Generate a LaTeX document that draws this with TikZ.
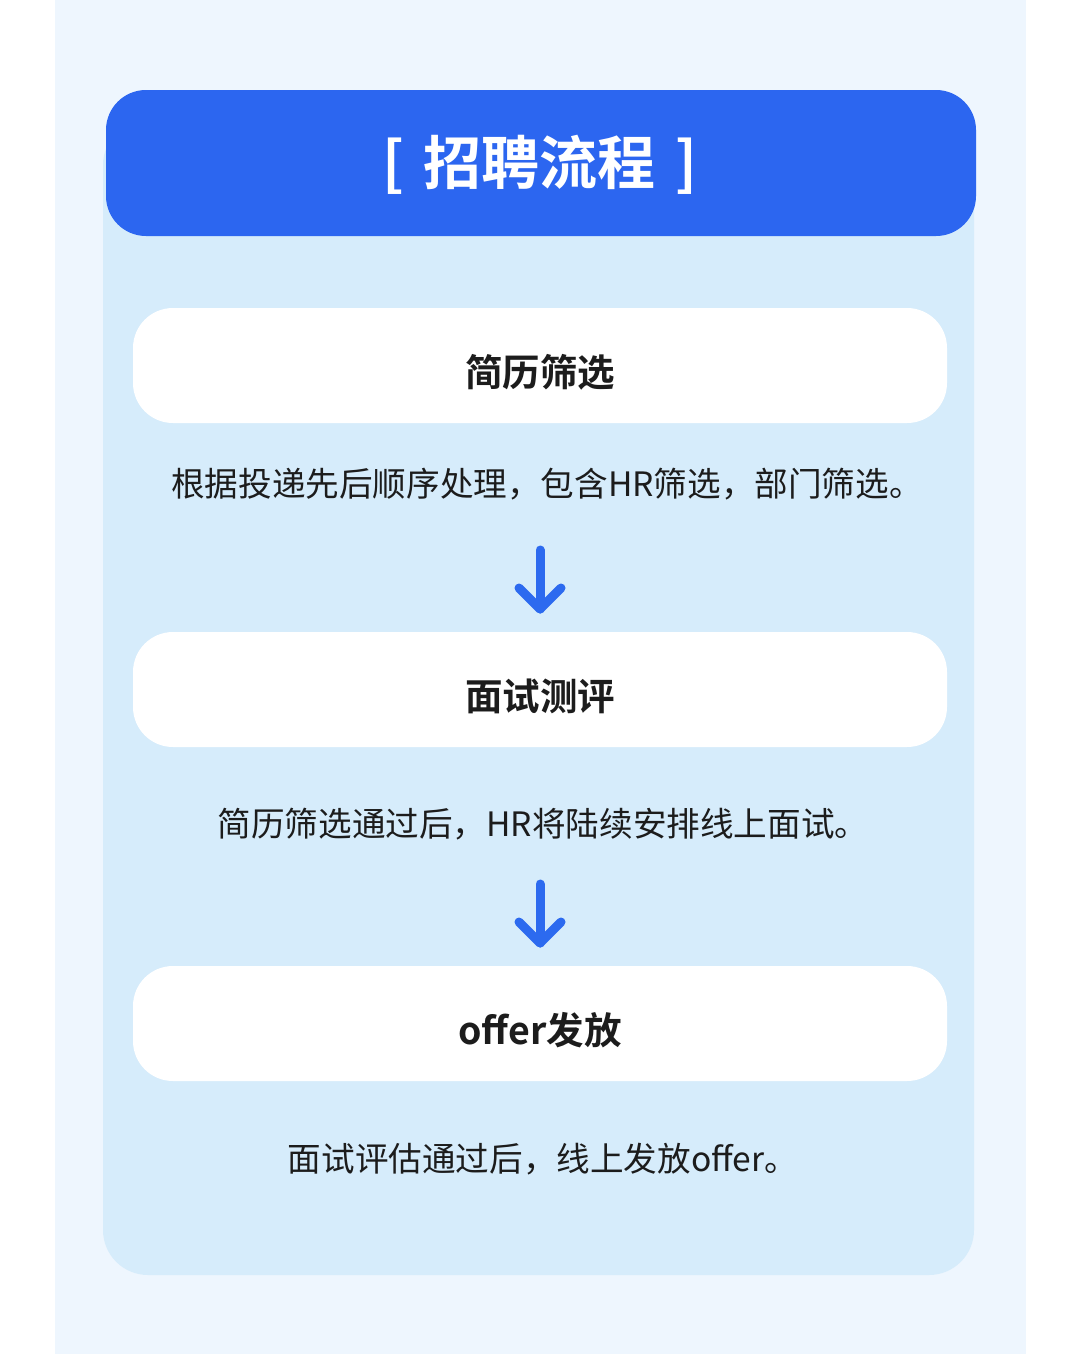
\documentclass[tikz,border=0pt]{standalone}
\usepackage{fontspec}
\setmainfont{Noto Sans CJK SC}
\newfontfamily\cjkbold{Noto Sans CJK SC Bold}
\usetikzlibrary{calc}
\definecolor{pagebg}{HTML}{EEF6FE}
\definecolor{cardbg}{HTML}{D6ECFB}
\definecolor{headblue}{HTML}{2C66F0}
\definecolor{arrowblue}{HTML}{2C6AEF}
\definecolor{textdark}{HTML}{1C1C1C}
\tikzset{
  stepbox/.style={fill=white, rounded corners=40pt},
  steptitle/.style={font=\cjkbold\fontsize{37.5}{42}\selectfont, text=textdark},
  stepnote/.style={font=\fontsize{33.6}{38}\selectfont, text=textdark},
  flowarrow/.style={line width=9pt, line cap=round, line join=round, arrowblue},
}
\begin{document}
\begin{tikzpicture}[x=1pt,y=-1pt]
			%%%%% BACKGROUND %%%%%
			\useasboundingbox (0,0) rectangle (1080,1354);
			\fill[white] (0,0) rectangle (1080,1354);
			\fill[pagebg] (55,0) rectangle (1026,1354);
			\fill[cardbg, rounded corners=45pt] (103,120) rectangle (974,1275);
			
			%%%%% HEADER %%%%%
			\fill[headblue, rounded corners=40pt] (106,90) rectangle (976,236);
			\node[font=\cjkbold\fontsize{58}{64}\selectfont, text=white] (title) at (540,165) {[\hspace{20pt}招聘流程\hspace{20pt}]};
			
			%%%%% STEPS %%%%%
			\fill[stepbox] (133,308) rectangle (947,423);
			\node[steptitle] (s1) at (540,372) {简历筛选};
			\node[stepnote] (n1) at (547,484) {根据投递先后顺序处理，包含HR筛选，部门筛选。};
			
			\fill[stepbox] (133,632) rectangle (947,747);
			\node[steptitle] (s2) at (540,696) {面试测评};
			\node[stepnote] (n2) at (543,824) {简历筛选通过后，HR将陆续安排线上面试。};
			
			\fill[stepbox] (133,966) rectangle (947,1081);
			\node[steptitle] (s3) at (540,1030) {offer发放};
			\node[stepnote] (n3) at (543,1159) {面试评估通过后，线上发放offer。};
			
			%%%%% ARROWS %%%%%
			\coordinate (a1s) at (540,550);
			\coordinate (a1e) at (540,609);
			\coordinate (a2s) at (540,884);
			\coordinate (a2e) at (540,943);
			\draw[flowarrow] (a1s) -- (a1e);
			\draw[flowarrow] ($(a1e)+(-21,-21)$) -- (a1e) -- ($(a1e)+(21,-21)$);
			\draw[flowarrow] (a2s) -- (a2e);
			\draw[flowarrow] ($(a2e)+(-21,-21)$) -- (a2e) -- ($(a2e)+(21,-21)$);
			
			%%%%% END %%%%%
\end{tikzpicture}
\end{document}
